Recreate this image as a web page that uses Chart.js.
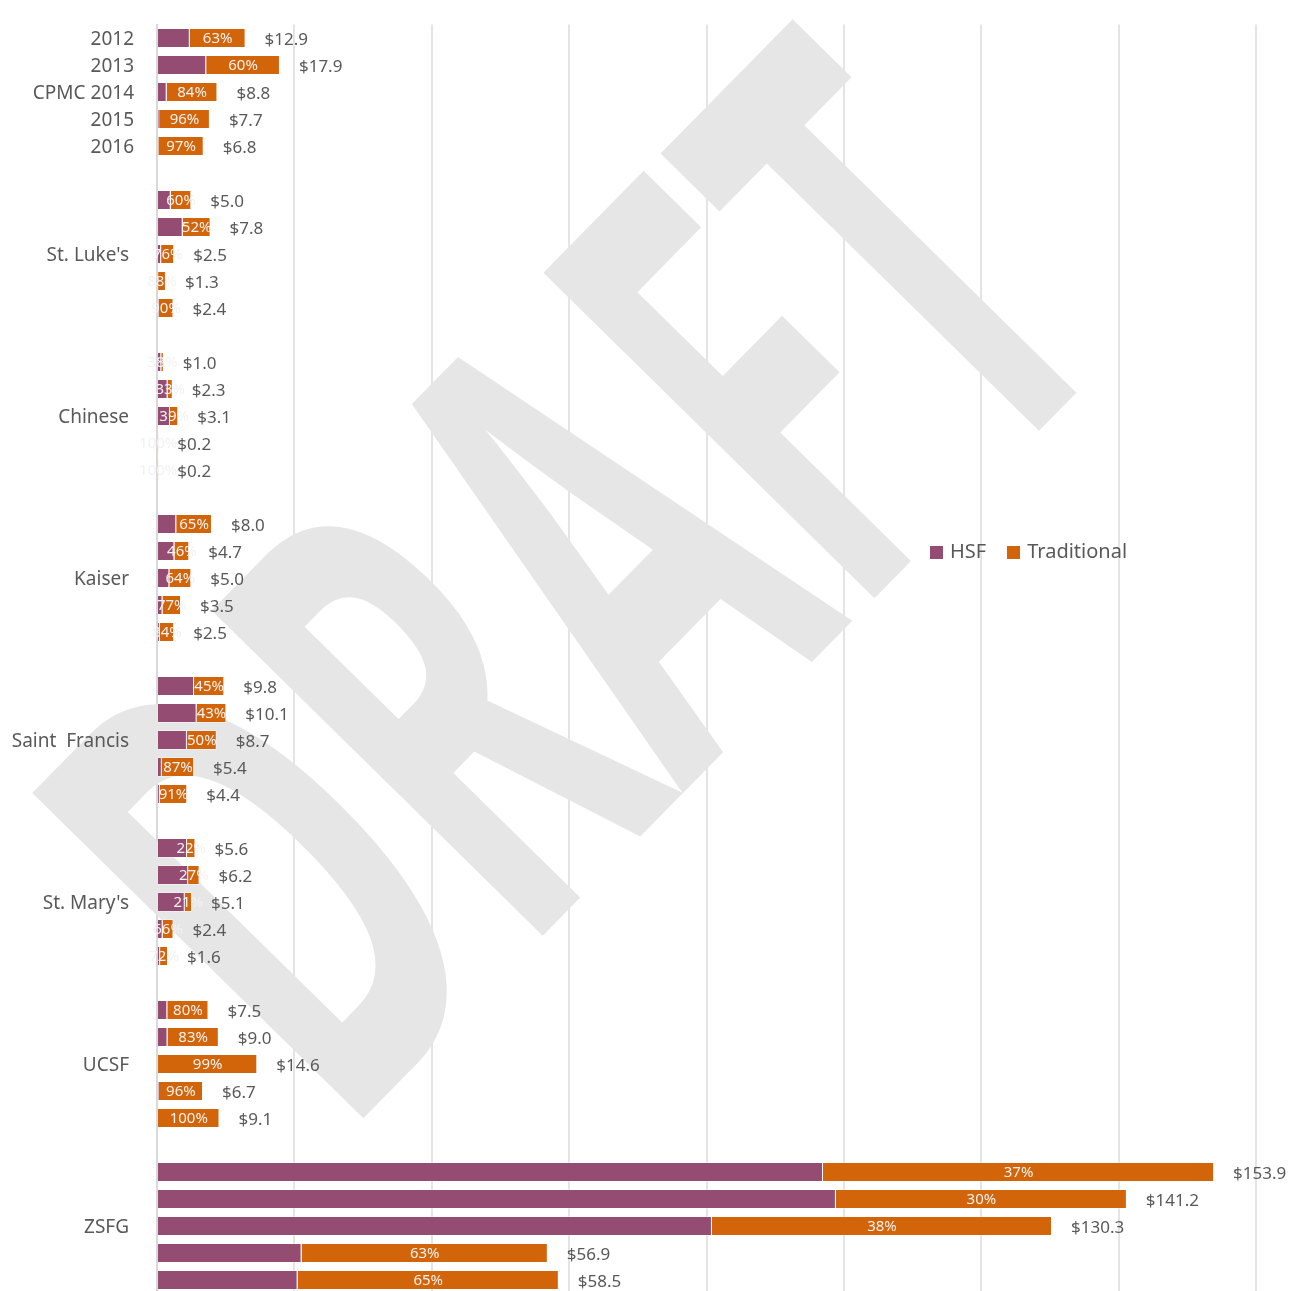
<!DOCTYPE html>
<html>
<head>
<meta charset="utf-8">
<script src="https://cdn.jsdelivr.net/npm/chart.js@4.4.1/dist/chart.umd.min.js"></script>
<style>
  body { margin: 0; background: #fff; }
  #wrap { position: relative; width: 1307px; height: 1291px; overflow: hidden; }
  #legend { position: absolute; left: 930px; top: 537px; font: 20px "Noto Sans", sans-serif; color: #595959; white-space: nowrap; }
  #legend span.box { display: inline-block; width: 13px; height: 13px; margin-right: 7px; vertical-align: -1px; }
  #legend span.item { margin-right: 21px; }
</style>
</head>
<body>
<div id="wrap">
  <canvas id="chart" width="1307" height="1300"></canvas>
  <div id="legend">
    <span class="item"><span class="box" style="background:#944C72"></span>HSF</span><span class="item"><span class="box" style="background:#D2640A"></span>Traditional</span>
  </div>
</div>
<script>
// hospitals, top to bottom
var groups = ["CPMC", "St. Luke's", "Chinese", "Kaiser", "Saint  Francis", "St. Mary's", "UCSF", "ZSFG"];
var years = ["2012", "2013", "2014", "2015", "2016"];

// $ millions, one row per hospital, 2012..2016
var hsf = [
  [4.77, 7.16, 1.41, 0.31, 0.20],
  [2.00, 3.74, 0.60, 0.16, 0.24],
  [0.62, 1.54, 1.89, 0.00, 0.00],
  [2.80, 2.54, 1.80, 0.80, 0.40],
  [5.39, 5.76, 4.35, 0.70, 0.40],
  [4.37, 4.53, 4.03, 0.82, 0.45],
  [1.50, 1.53, 0.15, 0.27, 0.00],
  [96.96, 98.84, 80.79, 21.05, 20.47]
];
var traditional = [
  [8.13, 10.74, 7.39, 7.39, 6.60],
  [3.00, 4.06, 1.90, 1.14, 2.16],
  [0.38, 0.76, 1.21, 0.20, 0.20],
  [5.20, 2.16, 3.20, 2.70, 2.10],
  [4.41, 4.34, 4.35, 4.70, 4.00],
  [1.23, 1.67, 1.07, 1.58, 1.15],
  [6.00, 7.47, 14.45, 6.43, 9.10],
  [56.94, 42.36, 49.51, 35.85, 38.03]
];

// flatten with an empty row between hospitals
var labels = [], hsfData = [], tradData = [];
groups.forEach(function(g, gi) {
  if (gi > 0) { labels.push(""); hsfData.push(null); tradData.push(null); }
  years.forEach(function(y, yi) {
    var lab = "";
    if (gi === 0) lab = (yi === 2) ? g + " " + y : y;
    else if (yi === 2) lab = g + " ";
    labels.push(lab);
    hsfData.push(hsf[gi][yi]);
    tradData.push(traditional[gi][yi]);
  });
});

var watermark = {
  id: "watermark",
  beforeDatasetsDraw: function(chart) {
    var ctx = chart.ctx;
    ctx.save();
    ctx.translate(570, 577);
    ctx.rotate(-45.5 * Math.PI / 180);
    ctx.scale(0.538, 1);
    ctx.font = "bold 650px 'Noto Sans'";
    ctx.fillStyle = "#e6e6e6";
    ctx.textAlign = "center";
    ctx.textBaseline = "alphabetic";
    ctx.fillText("DRAFT", 0, 232);
    ctx.restore();
  }
};

var barLabels = {
  id: "barLabels",
  afterDatasetsDraw: function(chart) {
    var ctx = chart.ctx;
    var meta = chart.getDatasetMeta(1);
    ctx.save();
    meta.data.forEach(function(el, i) {
      if (tradData[i] === null) return;
      var total = hsfData[i] + tradData[i];
      var pct = Math.round(tradData[i] / total * 100) + "%";
      ctx.font = "15px 'Noto Sans'";
      ctx.fillStyle = "#f2f2f2";
      ctx.textAlign = "center";
      ctx.textBaseline = "middle";
      ctx.fillText(pct, (el.x + el.base) / 2, el.y + 1);
      ctx.font = "17px 'Noto Sans'";
      ctx.fillStyle = "#595959";
      ctx.textAlign = "left";
      ctx.fillText("$" + total.toFixed(1), el.x + 19, el.y + 2);
    });
    ctx.restore();
  }
};

var ctx = document.getElementById("chart");
var chart = new Chart(ctx, {
  type: "bar",
  data: {
    labels: labels,
    datasets: [
      { label: "HSF", data: hsfData, backgroundColor: "#944C72", borderColor: "rgba(255,255,255,0.35)", borderWidth: 1 },
      { label: "Traditional", data: tradData, backgroundColor: "#D2640A", borderColor: "rgba(255,255,255,0.35)", borderWidth: 1 }
    ]
  },
  options: {
    indexAxis: "y",
    responsive: false,
    animation: false,
    barPercentage: 0.74,
    categoryPercentage: 1,
    layout: { padding: { top: 24.5, right: 51, bottom: 6.5, left: 0 } },
    plugins: { legend: { display: false }, tooltip: { enabled: false } },
    scales: {
      x: {
        stacked: true,
        min: 0,
        max: 160,
        ticks: { display: false, stepSize: 20 },
        grid: { color: "#e4e4e4", lineWidth: 2, drawTicks: false },
        border: { display: false },
        afterFit: function(s) { s.height = 0; s.paddingLeft = 0; s.paddingRight = 0; }
      },
      y: {
        stacked: true,
        grid: { display: false },
        border: { color: "#d9d9d9", width: 2 },
        ticks: { z: 1, autoSkip: false, padding: 15, labelOffset: 2, color: "#595959", font: { family: "Noto Sans", size: 19 } },
        afterFit: function(s) { s.width = 157; s.paddingTop = 0; s.paddingBottom = 0; }
      }
    }
  },
  plugins: [watermark, barLabels]
});
</script>
</body>
</html>
